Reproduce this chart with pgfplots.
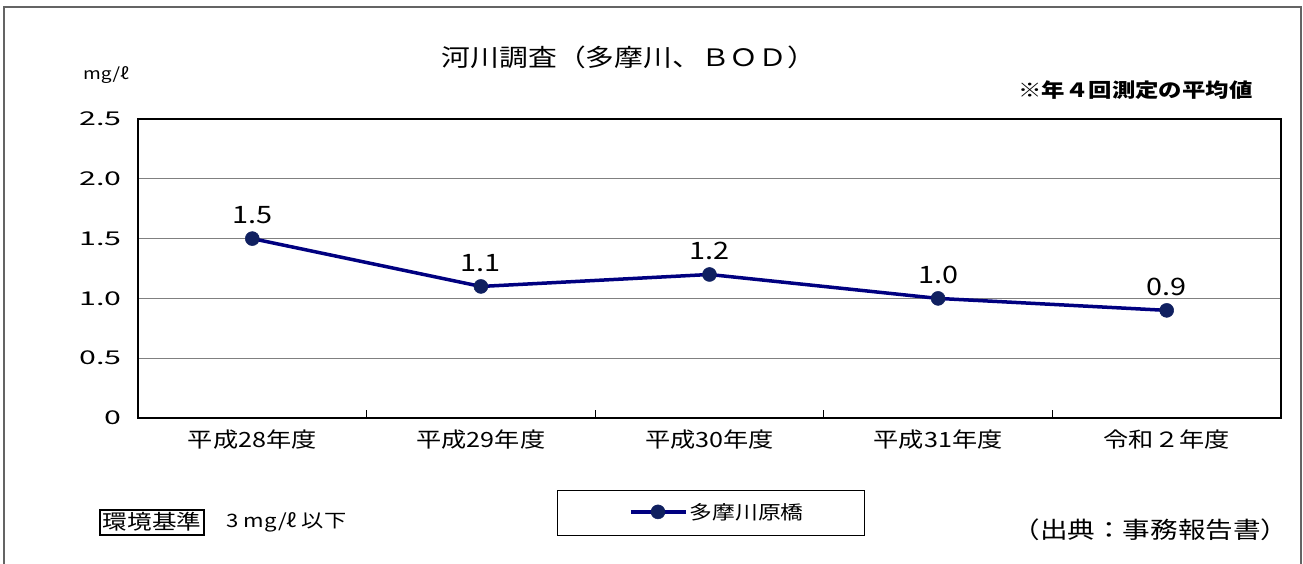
\documentclass[border=0pt]{standalone}
\usepackage{fontspec}
\setmainfont{Noto Sans CJK JP}[FakeStretch=1.2]
\newfontfamily\numfont{Noto Sans CJK JP}[FakeStretch=1.6]
\usepackage{pgfplots}
\usepackage{pgfplotstable}
\pgfplotsset{compat=1.18}
\definecolor{navyline}{RGB}{0,0,128}
\definecolor{navymark}{RGB}{16,32,96}
\definecolor{gridgray}{RGB}{128,128,128}
\definecolor{framegray}{RGB}{100,100,100}
\pgfplotstableread{
x y lab
0 1.5 1.5
1 1.1 1.1
2 1.2 1.2
3 1.0 1.0
4 0.9 0.9
}\tamadata
\begin{document}
\begin{tikzpicture}
\useasboundingbox (0pt,0pt) rectangle (1303pt,-563pt);
\draw[framegray, line width=2pt] (4pt,-570pt) -- (4pt,-7pt) -- (1301pt,-7pt) -- (1301pt,-570pt);
\begin{axis}[
  at={(138pt,-418pt)}, anchor=south west,
  scale only axis, width=1143pt, height=299pt,
  xmin=-0.5, xmax=4.5, ymin=0, ymax=2.5,
  xtick={0,1,2,3,4},
  xticklabels={平成28年度,平成29年度,平成30年度,平成31年度,令和２年度},
  minor xtick={0.5,1.5,2.5,3.5},
  ytick={0,0.5,1,1.5,2,2.5},
  yticklabels={0,0.5,1.0,1.5,2.0,2.5},
  /pgf/number format/assume math mode=true,
  major tick length=0pt, minor tick length=8pt,
  tick align=inside, xtick pos=left, ytick pos=left,
  minor x tick style={black, line width=0.8pt},
  axis line style={black, line width=1.5pt},
  ymajorgrids, grid style={gridgray, line width=0.8pt},
  yticklabel style={font=\numfont\fontsize{19}{21}\selectfont, xshift=-13pt},
  xticklabel style={font=\fontsize{21}{23}\selectfont, yshift=-8pt},
  clip=false,
  legend style={draw=none, fill=none, at={(0.507,-0.314)}, anchor=center,
    font=\fontsize{19}{21}\selectfont},
  legend image code/.code={
    \draw[#1] (0pt,0pt) -- (55pt,0pt);
    \draw[#1, only marks] plot coordinates {(27pt,0pt)};
  },
]
\addplot[navyline, line width=3.5pt, mark=*, mark size=7pt,
  mark options={fill=navymark, draw=navymark, line width=0.5pt},
  nodes near coords, point meta=explicit symbolic,
  every node near coord/.append style={font=\fontsize{24}{26}\selectfont, black, anchor=south, yshift=11pt}]
  table[x=x, y=y, meta=lab] {\tamadata};
\addlegendentry{多摩川原橋}
\end{axis}
\node[font=\fontsize{24}{28}\selectfont] at (629pt,-57pt) {河川調査（多摩川、ＢＯＤ）};
\node[font=\fontsize{16}{18}\selectfont] at (106pt,-75pt) {mg/ℓ};
\node[font=\fontsize{19.5}{22}\selectfont\bfseries, anchor=east] at (1256pt,-90pt) {※年４回測定の平均値};
\draw[black, line width=1pt] (557pt,-490pt) rectangle (864pt,-535pt);
\node[draw=black, line width=2pt, inner sep=3pt, font=\fontsize{20.5}{22}\selectfont] at (152pt,-522pt) {環境基準};
\node[anchor=west, font=\fontsize{18.5}{20}\selectfont] at (223pt,-522pt) {3 mg/ℓ 以下};
\node[anchor=east, font=\fontsize{23}{26}\selectfont] at (1292pt,-530pt) {（出典：事務報告書）};
\end{tikzpicture}
\end{document}
